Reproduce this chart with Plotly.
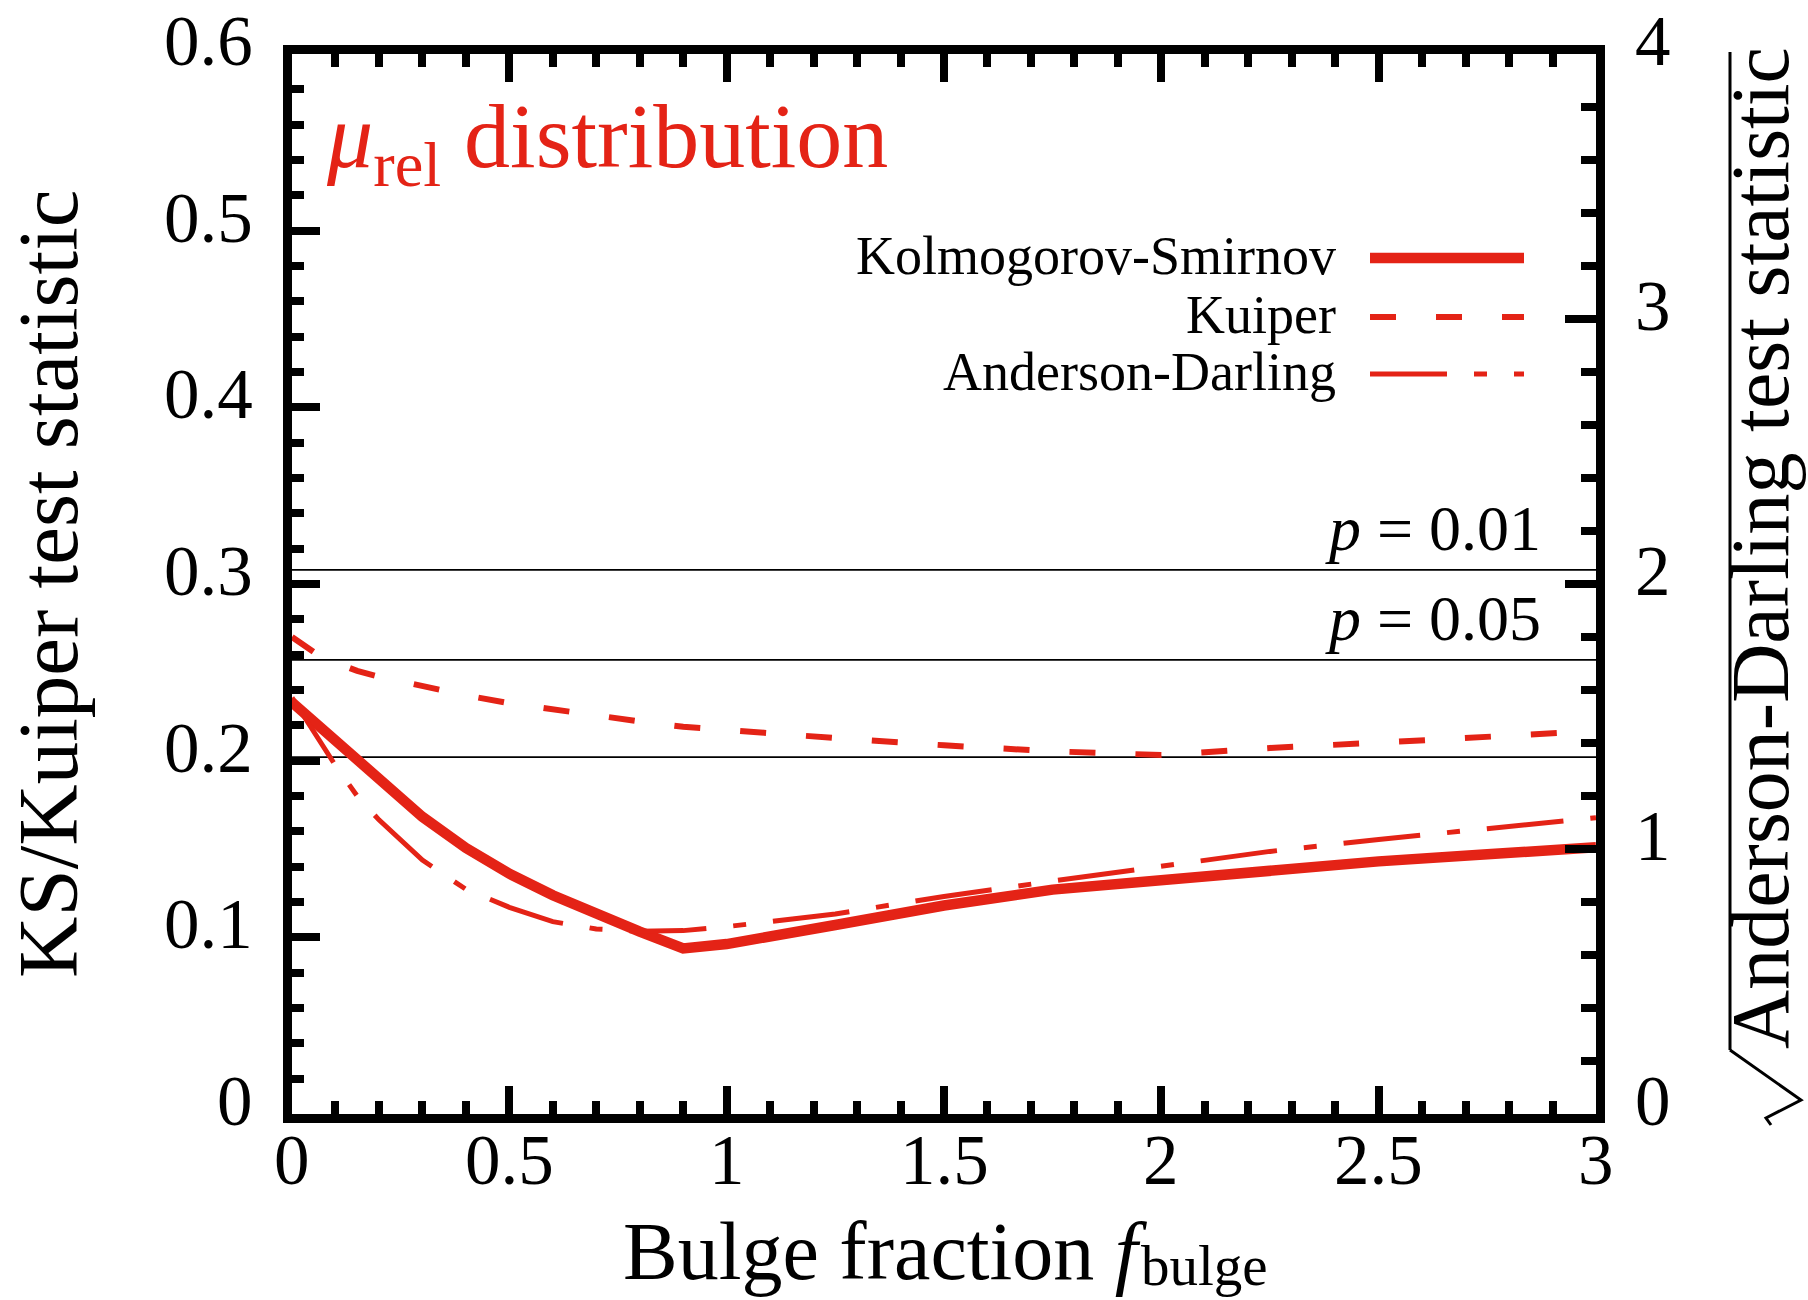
import plotly.graph_objects as go

# ---- data -------------------------------------------------------------
f_bulge = [0, 0.05, 0.1, 0.15, 0.2, 0.3, 0.4, 0.5, 0.6, 0.7, 0.8, 0.9, 1.0,
           1.25, 1.5, 1.75, 2.0, 2.25, 2.5, 2.75, 3.0]
ks_stat = [0.233, 0.222, 0.2115, 0.2005, 0.1895, 0.1682, 0.1506, 0.1360, 0.1238,
           0.1130, 0.1032, 0.0937, 0.0962, 0.107, 0.118, 0.127, 0.1325, 0.138,
           0.143, 0.147, 0.151]
kuiper_stat = [0.270, 0.2615, 0.2555, 0.2508, 0.2475, 0.2420, 0.2370, 0.2325, 0.2288,
               0.2254, 0.2222, 0.2192, 0.2173, 0.2128, 0.2087, 0.2053, 0.2032, 0.2072,
               0.2102, 0.2137, 0.2168]
ad_sqrt_stat = [1.571, 1.442, 1.315, 1.200, 1.110, 0.958, 0.848, 0.780, 0.726, 0.698,
                0.690, 0.692, 0.707, 0.755, 0.821, 0.879, 0.936, 0.991, 1.036, 1.075,
                1.118]

# critical values of the KS statistic
crit_levels = [0.308, 0.257, 0.202]
crit_labels = ["<i>p</i> = 0.01", "<i>p</i> = 0.05", None]

series_names = ["Kolmogorov-Smirnov", "Kuiper", "Anderson-Darling"]

# tick values / labels
x_ticks = [0, 0.5, 1, 1.5, 2, 2.5, 3]
x_ticktext = ["0", "0.5", "1", "1.5", "2", "2.5", "3"]
left_ticks = [0, 0.1, 0.2, 0.3, 0.4, 0.5, 0.6]
left_ticktext = ["0", "0.1", "0.2", "0.3", "0.4", "0.5", "0.6"]
right_ticks = [0, 1, 2, 3, 4]
right_ticktext = ["0", "1", "2", "3", "4"]

# ---- styling ----------------------------------------------------------
RED = "#E42316"
FONT = "Liberation Serif"
W, H = 1808, 1300
L, R, T, B = 292, 1596, 54, 1114          # inner edges of the frame (px)

KS_STYLE = dict(color=RED, width=10.5)
KUIPER_STYLE = dict(color=RED, width=6, dash="26px,40px")
AD_STYLE = dict(color=RED, width=5, dash="77px,27px,13px,27px")


def px(x):
    return (x - L) / (R - L)


def py(y):
    return (B - y) / (B - T)


fig = go.Figure()

for lvl in crit_levels:
    fig.add_trace(go.Scatter(x=[0, 3], y=[lvl, lvl], mode="lines",
                             line=dict(color="black", width=1.8),
                             hoverinfo="skip", showlegend=False))

fig.add_trace(go.Scatter(x=f_bulge, y=kuiper_stat, mode="lines",
                         line=KUIPER_STYLE, name=series_names[1], showlegend=False))
fig.add_trace(go.Scatter(x=f_bulge, y=ad_sqrt_stat, mode="lines", yaxis="y2",
                         line=AD_STYLE, name=series_names[2], showlegend=False))
fig.add_trace(go.Scatter(x=f_bulge, y=ks_stat, mode="lines",
                         line=KS_STYLE, name=series_names[0], showlegend=False))

tickfont = dict(family=FONT, size=71, color="black")

fig.update_layout(
    width=W, height=H,
    margin=dict(l=L, r=W - R, t=T, b=H - B, pad=0),
    paper_bgcolor="white", plot_bgcolor="white",
    font=dict(family=FONT, color="black"),
    xaxis=dict(range=[0, 3], dtick=0.5, tick0=0, showgrid=False, zeroline=False,
               showline=True, linewidth=9, linecolor="black", mirror="ticks",
               ticks="inside", ticklen=28, tickwidth=8, tickcolor="black",
               minor=dict(dtick=0.1, ticks="inside", ticklen=13, tickwidth=8,
                          tickcolor="black", showgrid=False),
               showticklabels=False),
    yaxis=dict(range=[0, 0.6], dtick=0.1, tick0=0, showgrid=False, zeroline=False,
               showline=True, linewidth=9, linecolor="black",
               ticks="inside", ticklen=28, tickwidth=8, tickcolor="black",
               minor=dict(dtick=0.02, ticks="inside", ticklen=12, tickwidth=8,
                          tickcolor="black", showgrid=False),
               showticklabels=False),
    yaxis2=dict(range=[0, 4], dtick=1, tick0=0, overlaying="y", side="right",
                showgrid=False, zeroline=False,
                showline=True, linewidth=9, linecolor="black",
                ticks="inside", ticklen=31, tickwidth=8, tickcolor="black",
                minor=dict(dtick=0.2, ticks="inside", ticklen=15, tickwidth=8,
                           tickcolor="black", showgrid=False),
                showticklabels=False),
)

annotations = []
# tick labels, placed on the axes' own scales
for v, t in zip(x_ticks, x_ticktext):
    annotations.append(dict(text=t, x=v, xref="x", y=py(1160), yref="paper",
                            xanchor="center", yanchor="middle",
                            showarrow=False, font=tickfont))
for v, t in zip(left_ticks, left_ticktext):
    annotations.append(dict(text=t, x=px(255), xref="paper", y=v, yref="y",
                            xanchor="right", yanchor="middle", yshift=13,
                            showarrow=False, font=tickfont))
for v, t in zip(right_ticks, right_ticktext):
    annotations.append(dict(text=t, x=px(1633), xref="paper", y=v, yref="y2",
                            xanchor="left", yanchor="middle", yshift=13,
                            showarrow=False, font=tickfont))

# panel title
annotations.append(dict(text="<i>μ</i><sub>rel</sub> distribution", x=px(324), y=py(142),
                        xref="paper", yref="paper", xanchor="left", yanchor="middle",
                        showarrow=False, font=dict(family=FONT, size=92, color=RED)))
# x-axis title: main text plus a lowered, smaller "bulge" index
annotations.append(dict(text="Bulge fraction <i>f</i>", x=px(621), y=py(1251),
                        xref="paper", yref="paper", xanchor="left", yanchor="middle",
                        showarrow=False, font=dict(family=FONT, size=82)))
annotations.append(dict(text="bulge", x=px(1139), y=py(1299),
                        xref="paper", yref="paper", xanchor="left", yanchor="bottom",
                        showarrow=False, font=dict(family=FONT, size=57)))
# y-axis titles
annotations.append(dict(text="KS/Kuiper test statistic", x=px(48), y=py(584),
                        xref="paper", yref="paper", xanchor="center", yanchor="middle",
                        textangle=-90, showarrow=False, font=dict(family=FONT, size=85)))
annotations.append(dict(text="Anderson-Darling test statistic", x=px(1760), y=py(548),
                        xref="paper", yref="paper", xanchor="center", yanchor="middle",
                        textangle=-90, showarrow=False, font=dict(family=FONT, size=82)))
# critical-value labels
for lab, yc in zip(crit_labels, [528, 619, None]):
    if lab:
        annotations.append(dict(text=lab, x=px(1543), y=py(yc), xref="paper", yref="paper",
                                xanchor="right", yanchor="middle", showarrow=False,
                                font=dict(family=FONT, size=64)))

# legend (text right-aligned, sample line on the right)
legend_rows = [258, 317, 374]
legend_styles = [KS_STYLE, KUIPER_STYLE, AD_STYLE]
shapes = []
for name, yrow, sty in zip(series_names, legend_rows, legend_styles):
    annotations.append(dict(text=name, x=px(1338), y=py(yrow - 2), xref="paper", yref="paper",
                            xanchor="right", yanchor="middle", showarrow=False,
                            font=dict(family=FONT, size=54)))
    shapes.append(dict(type="line", xref="paper", yref="paper",
                       x0=px(1370), x1=px(1524), y0=py(yrow), y1=py(yrow),
                       line=sty))

# radical sign in front of the right-hand title
shapes.append(dict(type="line", xref="paper", yref="paper",
                   x0=px(1730), x1=px(1730), y0=py(52), y1=py(1050),
                   line=dict(color="black", width=3)))
shapes.append(dict(type="path", xref="paper", yref="paper",
                   path=(f"M {px(1730)},{py(1050)} L {px(1801)},{py(1100)} "
                         f"L {px(1766)},{py(1118)} L {px(1771)},{py(1125)}"),
                   line=dict(color="black", width=3)))

fig.update_layout(annotations=annotations, shapes=shapes)

fig.write_html("out.html")
